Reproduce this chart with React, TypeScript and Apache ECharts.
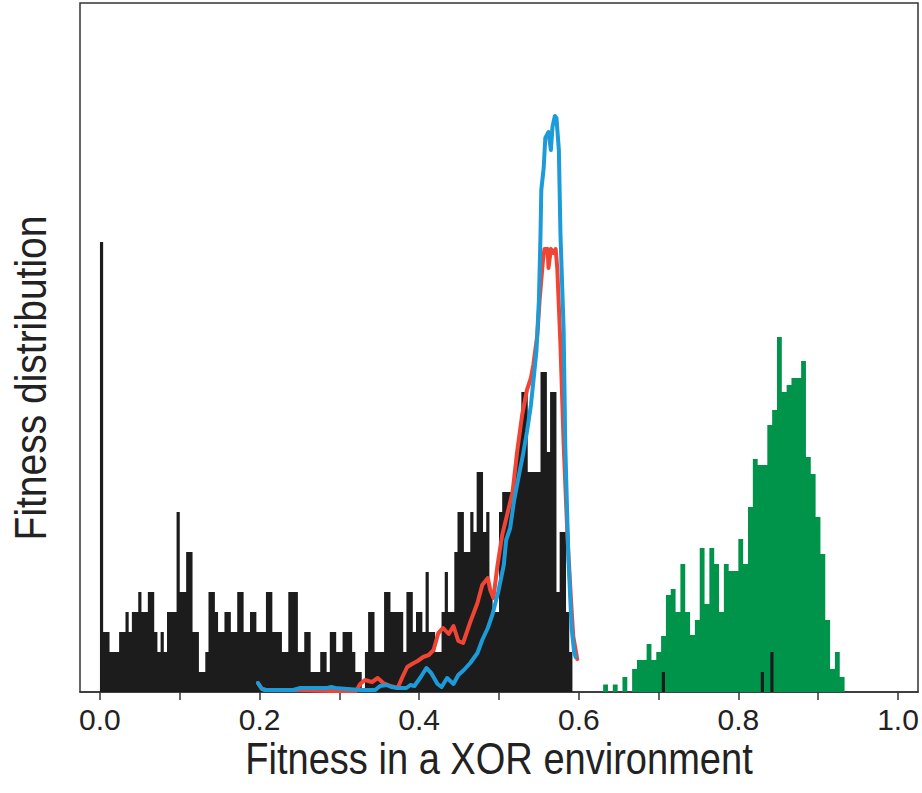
import { useEffect, useRef } from "react";
import * as echarts from "echarts";

// ---------- data ----------
// Black histogram: bins of width 0.004 starting at 0.0 (counts)
const BLACK_BIN_START = 0;
const BLACK_BIN_WIDTH = 0.004;
const BLACK_COUNTS = [
  22.5, 3, 3, 2, 2, 2, 3, 3, 4, 3,
  4, 4, 5, 4, 4, 5, 5, 3, 2, 3,
  2, 4, 4, 4, 9, 5, 5, 7, 7, 3,
  3, 1, 1, 2, 5, 5, 4, 3, 3, 4,
  4, 3, 3, 5, 5, 3, 3, 4, 4, 3,
  3, 3, 5, 5, 3, 3, 3, 2, 2, 5,
  5, 5, 2, 2, 3, 3, 1, 1, 1, 2,
  2, 1, 3, 3, 2, 2, 3, 3, 3, 2,
  1, 1, 0, 2, 4, 4, 2, 2, 2, 5,
  5, 4, 4, 4, 4, 2, 5, 5, 3, 4,
  4, 3, 6, 3, 3, 2, 2, 4, 6, 4,
  4, 7, 9, 9, 7, 7, 9, 8, 11, 11,
  8, 9, 5, 4, 4, 9, 10, 10, 10, 10,
  12, 13, 15, 15, 11, 11, 11, 11, 16, 16,
  12, 15, 15, 5, 8, 8, 4, 2,
];
// Isolated black bins inside the green distribution
const BLACK_EXTRA_X = [0.704, 0.828, 0.84];
const BLACK_EXTRA_COUNTS = [1, 1, 2];

// Green histogram
const GREEN_BIN_START = 0.6305;
const GREEN_BIN_WIDTH = 0.00605;
const GREEN_VALUES = [
  0.37, 0, 0.37, 0, 0.75, 0, 1.15, 1.6, 1.6, 2.4,
  1.6, 2.0, 2.8, 4.85, 5.15, 4.0, 6.4, 4.0, 2.85, 3.6,
  7.2, 4.4, 7.2, 6.4, 4.0, 6.4, 6.05, 6.05, 7.65, 6.4,
  9.25, 11.65, 11.35, 11.35, 13.35, 14.1, 17.75, 15.0, 15.35, 15.7,
  15.7, 16.55, 11.75, 10.9, 8.75, 6.9, 3.6, 1.15, 2.0, 0.75,
];

// Red curve
const RED_X = [
  0.198, 0.203, 0.208, 0.251, 0.289, 0.321, 0.326, 0.332, 0.341, 0.348,
  0.355, 0.364, 0.373, 0.379, 0.385, 0.391, 0.398, 0.405, 0.412, 0.418,
  0.424, 0.43, 0.437, 0.443, 0.449, 0.455, 0.464, 0.473, 0.479, 0.486,
  0.489, 0.493, 0.498, 0.504, 0.511, 0.517, 0.523, 0.529, 0.535, 0.54,
  0.543, 0.548, 0.551, 0.555, 0.557, 0.561, 0.562, 0.565, 0.568, 0.571,
  0.573, 0.577, 0.581, 0.586, 0.59, 0.593, 0.598,
];
const RED_Y = [
  0.45, 0.15, 0.1, 0.1, 0.05, 0.05, 0.4, 0.6, 0.5, 0.7,
  0.45, 0.3, 0.2, 0.75, 1.25, 1.4, 1.55, 1.75, 1.85, 2.1,
  2.95, 3.2, 2.9, 3.3, 2.55, 2.45, 3.5, 4.45, 5.35, 5.7,
  5.1, 4.7, 6.3, 7.85, 9.0, 10.0, 12.1, 13.85, 15.1, 15.7,
  16.35, 17.85, 19.65, 21.55, 22.15, 22.15, 21.2, 22.15, 21.95, 22.15,
  21.2, 17.35, 12.4, 7.6, 4.75, 2.8, 1.65,
];

// Blue curve
const BLUE_X = [
  0.198, 0.203, 0.208, 0.242, 0.251, 0.285, 0.29, 0.295, 0.326, 0.345,
  0.351, 0.359, 0.365, 0.374, 0.384, 0.389, 0.394, 0.402, 0.409, 0.415,
  0.423, 0.428, 0.435, 0.443, 0.449, 0.456, 0.464, 0.473, 0.479, 0.486,
  0.492, 0.499, 0.506, 0.509, 0.514, 0.519, 0.525, 0.53, 0.535, 0.54,
  0.543, 0.547, 0.55, 0.552, 0.553, 0.556, 0.558, 0.562, 0.565, 0.567,
  0.57, 0.572, 0.575, 0.577, 0.581, 0.583, 0.587, 0.591, 0.594, 0.596,
];
const BLUE_Y = [
  0.45, 0.15, 0.1, 0.1, 0.2, 0.2, 0.25, 0.2, 0.1, 0.1,
  0.3, 0.35, 0.25, 0.2, 0.2, 0.35, 0.3, 0.75, 1.2, 0.95,
  0.4, 0.25, 0.7, 0.4, 0.85, 1.1, 1.45, 1.95, 2.6, 3.2,
  3.9, 5.0, 6.35, 7.6, 8.2, 9.6, 10.85, 11.85, 13.0, 14.35,
  15.5, 17.1, 19.6, 22.85, 25.1, 26.2, 27.7, 28.0, 27.1, 28.25,
  28.8, 28.7, 27.1, 22.9, 18.1, 12.4, 6.65, 3.2, 2.05, 1.75,
];

// Axis ticks / labels
const X_TICKS = [0, 0.1, 0.2, 0.3, 0.4, 0.5, 0.6, 0.7, 0.8, 0.9, 1.0];
const X_LABELS = [0, 0.2, 0.4, 0.6, 0.8, 1.0];
const X_TITLE = "Fitness in a XOR environment";
const Y_TITLE = "Fitness distribution";

// ---------- helpers ----------
function stepPoints(start: number, width: number, values: number[]) {
  const pts: number[][] = values.map((v, i) => [start + i * width, v]);
  pts.push([start + values.length * width, values[values.length - 1]]);
  return pts;
}
function zip(xs: number[], ys: number[]) {
  const n = Math.min(xs.length, ys.length);
  const out: number[][] = [];
  for (let i = 0; i < n; i++) out.push([xs[i], ys[i]]);
  return out;
}

const FONT = '"Liberation Sans", Arial, Helvetica, sans-serif';
const C_BLACK = "#1c1c1c";
const C_GREEN = "#00944a";
const C_RED = "#f04434";
const C_BLUE = "#1c9bd8";
const C_TEXT = "#222";

export default function App() {
  const ref = useRef<HTMLDivElement>(null);
  useEffect(() => {
    const chart = echarts.init(ref.current!, null, { renderer: "svg" });
    chart.setOption({
      animation: false,
      backgroundColor: "#ffffff",
      grid: {
        left: 80,
        right: 4,
        top: 3,
        bottom: 101,
        show: true,
        borderColor: "#333",
        borderWidth: 1.5,
      },
      xAxis: {
        type: "value",
        min: -0.025,
        max: 1.025,
        splitLine: { show: false },
        axisLine: { show: true, lineStyle: { color: "#333", width: 1.5 } },
        axisTick: {
          show: true,
          customValues: X_TICKS,
          length: 8,
          lineStyle: { color: "#333", width: 1.5 },
        },
        axisLabel: {
          customValues: X_LABELS,
          formatter: (v: number) => v.toFixed(1),
          fontSize: 30,
          fontFamily: FONT,
          color: C_TEXT,
          margin: 12,
        },
      },
      yAxis: {
        type: "value",
        min: 0,
        max: 34.45,
        axisLine: { show: false },
        axisTick: { show: false },
        axisLabel: { show: false },
        splitLine: { show: false },
      },
      graphic: [
        {
          type: "text",
          x: 499,
          y: 759,
          scaleX: 0.865,
          style: {
            text: X_TITLE,
            font: `44px ${FONT}`,
            fill: C_TEXT,
            align: "center",
            verticalAlign: "middle",
          },
        },
        {
          type: "text",
          x: 31,
          y: 378,
          rotation: Math.PI / 2,
          scaleX: 0.886,
          style: {
            text: Y_TITLE,
            font: `44px ${FONT}`,
            fill: C_TEXT,
            align: "center",
            verticalAlign: "middle",
          },
        },
      ],
      series: [
        {
          type: "line",
          step: "end",
          data: stepPoints(BLACK_BIN_START, BLACK_BIN_WIDTH, BLACK_COUNTS),
          showSymbol: false,
          lineStyle: { width: 0 },
          areaStyle: { color: C_BLACK, opacity: 1 },
          z: 1,
          silent: true,
        },
        {
          type: "line",
          step: "end",
          data: stepPoints(GREEN_BIN_START, GREEN_BIN_WIDTH, GREEN_VALUES),
          showSymbol: false,
          lineStyle: { width: 0 },
          areaStyle: { color: C_GREEN, opacity: 1 },
          z: 2,
          silent: true,
        },
        {
          type: "custom",
          data: zip(BLACK_EXTRA_X, BLACK_EXTRA_COUNTS),
          encode: { x: 0, y: 1 },
          z: 5,
          renderItem: (_params: any, api: any) => {
            const x0 = api.value(0);
            const p0 = api.coord([x0, api.value(1)]);
            const p1 = api.coord([x0 + BLACK_BIN_WIDTH, 0]);
            return {
              type: "rect",
              shape: { x: p0[0], y: p0[1], width: p1[0] - p0[0], height: p1[1] - p0[1] },
              style: { fill: C_BLACK },
            };
          },
        },
        {
          type: "line",
          data: zip(RED_X, RED_Y),
          showSymbol: false,
          lineStyle: { color: C_RED, width: 4, join: "round", cap: "round" },
          z: 3,
          silent: true,
        },
        {
          type: "line",
          data: zip(BLUE_X, BLUE_Y),
          showSymbol: false,
          lineStyle: { color: C_BLUE, width: 4, join: "round", cap: "round" },
          z: 4,
          silent: true,
        },
      ],
    });
    return () => chart.dispose();
  }, []);
  return (
    <div
      ref={ref}
      style={{ position: "absolute", left: 0, top: 0, width: 922, height: 793 }}
    />
  );
}
